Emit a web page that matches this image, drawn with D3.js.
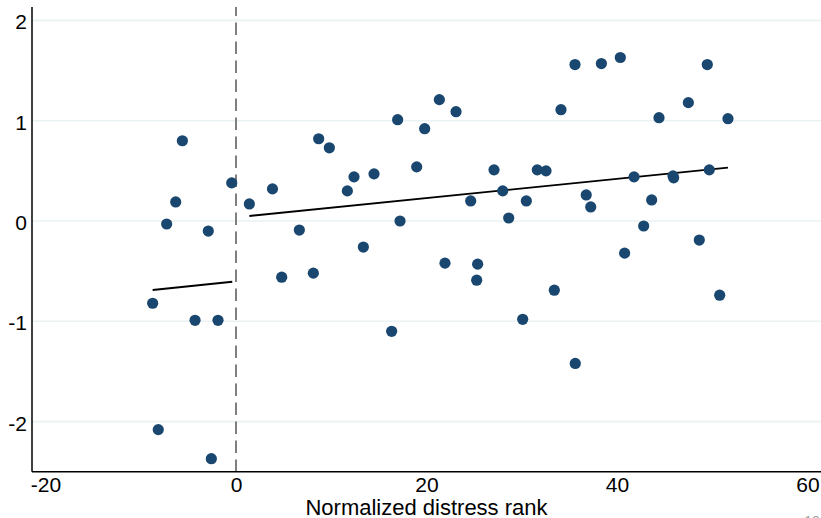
<!DOCTYPE html>
<html>
<head>
<meta charset="utf-8">
<script src="https://cdn.jsdelivr.net/npm/d3@7"></script>
<style>
  html, body { margin: 0; padding: 0; background: #fff; overflow: hidden; }
  svg { display: block; font-family: "Liberation Sans", Arial, sans-serif; }
</style>
</head>
<body>
<svg id="chart"></svg>
<script>
// Scatter of the outcome against the normalized distress rank.
// Points left of the cutoff (rank < 0)
var rankLeft  = [-8.75, -8.16, -7.28, -6.33, -5.63, -4.30, -2.91, -2.59, -1.89, -0.45]
var valueLeft = [-0.82, -2.08, -0.03,  0.19,  0.80, -0.99, -0.10, -2.37, -0.99,  0.38]

// Points right of the cutoff
var rankRight = [1.40, 3.83, 4.80, 6.65, 8.12, 8.68, 9.80, 11.69, 12.39, 13.37,
  14.49, 16.34, 16.97, 17.22, 18.97, 19.81, 21.35, 21.94, 23.10, 24.64,
  25.37, 25.27, 27.09, 28.00, 28.63, 30.10, 30.48, 31.63, 32.55, 33.42,
  34.12, 35.59, 35.62, 36.77, 37.24, 38.36, 40.35, 40.80, 41.79, 42.80,
  43.64, 44.41, 45.88, 45.95, 47.49, 48.64, 49.48, 49.69, 50.78, 51.65]
var valueRight = [0.17, 0.32, -0.56, -0.09, -0.52, 0.82, 0.73, 0.30, 0.44, -0.26,
  0.47, -1.10, 1.01, 0.00, 0.54, 0.92, 1.21, -0.42, 1.09, 0.20,
  -0.43, -0.59, 0.51, 0.30, 0.03, -0.98, 0.20, 0.51, 0.50, -0.69,
  1.11, 1.56, -1.42, 0.26, 0.14, 1.57, 1.63, -0.32, 0.44, -0.05,
  0.21, 1.03, 0.45, 0.43, 1.18, -0.19, 1.56, 0.51, -0.74, 1.02]

// Linear fit segments on each side: [x, y] at both ends
var fitLeft  = [[-8.75, -0.688], [-0.39, -0.605]]
var fitRight = [[1.40, 0.05], [51.65, 0.532]]

var xTicks = [-20, 0, 20, 40, 60]
var yTicks = [-2, -1, 0, 1, 2]
var cutoff = 0
var xTitle = "Normalized distress rank"

var W = 821, H = 518
var plot = { left: 32, right: 821, top: 7, bottom: 471.7 }

var svg = d3.select("#chart").attr("width", W).attr("height", H)

var xScale = d3.scaleLinear().domain([-20, 60]).range([45.5, 807.5])
var yScale = d3.scaleLinear().domain([-2, 2]).range([421.6, 20.4])

// plain hyphen for negatives, like the original
var fmt = function(d) { return String(d) }

// horizontal grid lines
svg.append("g")
  .selectAll("line")
  .data(yTicks)
  .enter()
  .append("line")
  .attr("x1", plot.left)
  .attr("x2", plot.right)
  .attr("y1", function(d) { return yScale(d) })
  .attr("y2", function(d) { return yScale(d) })
  .style("stroke", "#eaf2f3")
  .style("stroke-width", 1.6)

// cutoff line
svg.append("line")
  .attr("x1", xScale(cutoff)).attr("x2", xScale(cutoff))
  .attr("y1", plot.top).attr("y2", plot.bottom)
  .style("stroke", "#7f7f7f")
  .style("stroke-width", 2)
  .style("stroke-dasharray", "12.3,6.7")
  .style("stroke-dashoffset", 3.4)

// axes, drawn with d3 axes but without tick marks
var xAxis = svg.append("g")
  .attr("transform", "translate(0," + plot.bottom + ")")
  .call(d3.axisBottom(xScale).tickValues(xTicks).tickSize(0).tickPadding(0).tickFormat(fmt))
xAxis.select(".domain").remove()
xAxis.selectAll("text")
  .attr("y", 20.5)
  .attr("dy", 0)
  .style("font-size", "21px")
  .style("font-family", "Liberation Sans, Arial, sans-serif")
  .style("fill", "#000")

var yAxis = svg.append("g")
  .attr("transform", "translate(" + plot.left + ",0)")
  .call(d3.axisLeft(yScale).tickValues(yTicks).tickSize(0).tickPadding(5).tickFormat(fmt))
yAxis.select(".domain").remove()
yAxis.selectAll("text")
  .attr("dy", "0.4em")
  .style("font-size", "21px")
  .style("font-family", "Liberation Sans, Arial, sans-serif")
  .style("fill", "#000")

svg.append("line")
  .attr("x1", plot.left).attr("x2", plot.left)
  .attr("y1", plot.top).attr("y2", plot.bottom)
  .style("stroke", "#000").style("stroke-width", 1.5)
svg.append("line")
  .attr("x1", plot.left).attr("x2", plot.right)
  .attr("y1", plot.bottom).attr("y2", plot.bottom)
  .style("stroke", "#000").style("stroke-width", 1.5)

// fit lines
var line = d3.line()
  .x(function(d) { return xScale(d[0]) })
  .y(function(d) { return yScale(d[1]) })

svg.selectAll("path.fit")
  .data([fitLeft, fitRight])
  .enter()
  .append("path")
  .attr("class", "fit")
  .attr("d", line)
  .style("fill", "none")
  .style("stroke", "#000")
  .style("stroke-width", 1.9)

// points
var points = d3.zip(rankLeft.concat(rankRight), valueLeft.concat(valueRight))

svg.append("g")
  .selectAll("circle")
  .data(points)
  .enter()
  .append("circle")
  .attr("cx", function(d) { return xScale(d[0]) })
  .attr("cy", function(d) { return yScale(d[1]) })
  .attr("r", 5.6)
  .style("fill", "#1a476f")

// axis title
svg.append("text")
  .attr("x", (plot.left + plot.right) / 2)
  .attr("y", 515)
  .attr("text-anchor", "middle")
  .style("font-size", "22px")
  .style("fill", "#000")
  .text(xTitle)

// page number peeking in at the bottom right corner
svg.append("text")
  .attr("x", 812)
  .attr("y", 526)
  .attr("text-anchor", "middle")
  .style("font-size", "14px")
  .style("fill", "#a0a0a0")
  .text("10")
</script>
</body>
</html>
